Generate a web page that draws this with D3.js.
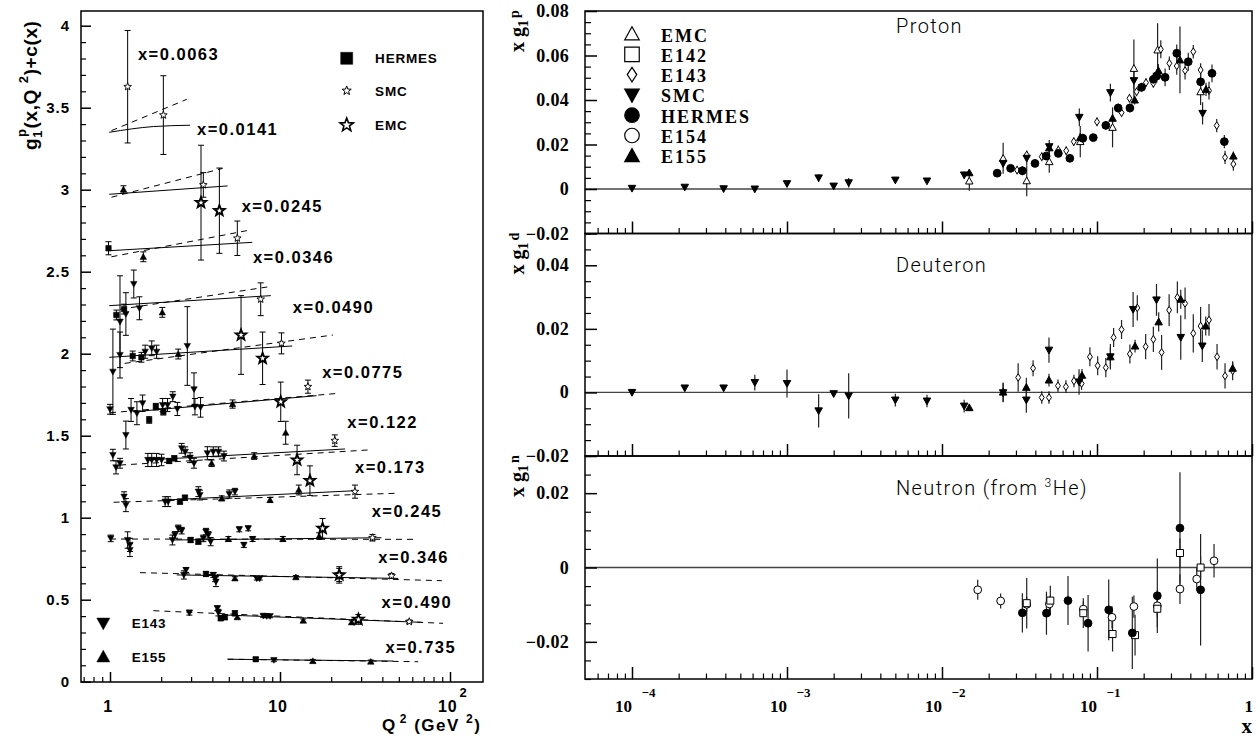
<!DOCTYPE html>
<html><head><meta charset="utf-8">
<script src="https://cdn.jsdelivr.net/npm/d3@7"></script>
<style>body{margin:0;background:#fff}svg{display:block}</style>
</head><body>
<svg id="c" width="1260" height="743"></svg>
<script>
// ================= DATA =================
// Left panel: g1p(x,Q2)+c(x) vs Q2  -> [Q2, value, error]
const leftBins = ["0.0063","0.0141","0.0245","0.0346","0.0490","0.0775","0.122","0.173","0.245","0.346","0.490","0.735"];
const leftHERMES = [[0.98,2.643,0.04],[1.09,2.236,0.03],[1.21,2.272,0.03],[1.36,1.986,0.03],[1.53,1.978,0.03],[1.70,1.596,0.02],[1.86,1.677,0.02],[2.06,1.646,0.02],[2.23,1.346,0.015],[2.39,1.362,0.015],[2.58,1.098,0.015],[2.76,1.122,0.015],[2.98,0.864,0.015],[3.31,0.854,0.015],[3.67,0.657,0.015],[4.48,0.387,0.015],[4.74,0.393,0.015],[5.43,0.417,0.015],[7.2,0.137,0.01]];
const leftE143 = [[1.145,2.195,0.28],[1.24,2.242,0.13],[1.38,2.425,0.085],[1.49,2.277,0.07],[1.04,1.89,0.26],[1.145,1.992,0.14],[1.61,2.012,0.04],[1.76,2.033,0.045],[1.88,2.012,0.04],[2.85,2.047,0.24],[3.12,1.783,0.1],
 [1.0,1.661,0.03],[1.24,1.504,0.085],[1.33,1.657,0.07],[1.44,1.637,0.07],[1.555,1.698,0.05],[2.04,1.687,0.04],[2.18,1.687,0.04],[2.34,1.738,0.03],[2.49,1.663,0.04],[3.16,1.677,0.05],[3.41,1.673,0.06],
 [1.04,1.382,0.035],[1.085,1.307,0.04],[1.145,1.332,0.03],[1.67,1.352,0.04],[1.76,1.352,0.04],[1.88,1.352,0.04],[2.01,1.352,0.035],[2.64,1.423,0.03],[2.77,1.402,0.03],[2.96,1.366,0.03],[3.12,1.332,0.03],[3.74,1.393,0.04],[4.05,1.402,0.03],[4.35,1.402,0.03],[4.68,1.376,0.03],
 [1.21,1.128,0.03],[1.24,1.077,0.04],[2.11,1.098,0.03],[2.2,1.098,0.03],[3.31,1.159,0.03],[3.38,1.138,0.03],[5.03,1.144,0.025],[5.43,1.159,0.02],
 [1.01,0.874,0.02],[1.27,0.864,0.05],[1.31,0.834,0.04],[1.31,0.803,0.04],[2.33,0.864,0.03],[2.41,0.895,0.02],[2.52,0.935,0.02],[2.64,0.921,0.02],[3.54,0.874,0.02],[3.67,0.915,0.02],[3.79,0.895,0.02],[3.91,0.854,0.025],[5.76,0.929,0.015],[6.13,0.834,0.015],[6.5,0.935,0.015],[6.9,0.87,0.015],
 [2.72,0.651,0.025],[2.80,0.681,0.015],[4.05,0.651,0.015],[4.15,0.630,0.02],[4.2,0.61,0.03],[7.3,0.63,0.01],[7.6,0.63,0.01],[22.3,0.651,0.04],
 [2.93,0.421,0.015],[4.28,0.448,0.015],[4.34,0.421,0.02],[7.97,0.402,0.01],[8.35,0.400,0.01],[8.74,0.400,0.01],
 [9.2,0.132,0.01]];
const leftE155 = [[1.20,3.002,0.022],[1.57,2.591,0.03],[2.03,2.252,0.03],[2.52,1.998,0.03],[5.26,1.693,0.025],[3.96,1.332,0.02],[7.05,1.376,0.02],[10.8,1.518,0.07],[4.54,1.118,0.015],[8.74,1.108,0.015],[12.9,1.169,0.03],[4.97,0.87,0.015],[10.4,0.87,0.015],[17.0,0.888,0.02],[5.43,0.630,0.01],[12.4,0.637,0.01],[5.61,0.393,0.01],[13.7,0.372,0.01],[26.4,0.362,0.01],[15.6,0.126,0.01],[34.2,0.122,0.01]];
const leftSMC = [[1.27,3.628,0.343],[2.06,3.455,0.24],[3.54,3.029,0.075],[5.61,2.704,0.105],[7.7,2.332,0.1],[10.2,2.063,0.064],[14.6,1.799,0.04],[21.0,1.47,0.035],[27.6,1.159,0.04],[35.0,0.878,0.02],[45.3,0.645,0.015],[57.6,0.366,0.01]];
const leftEMC = [[3.43,2.921,0.35],[4.4,2.872,0.26],[5.9,2.114,0.24],[7.9,1.972,0.16],[10.1,1.707,0.12],[12.6,1.352,0.09],[15.0,1.226,0.09],[17.8,0.935,0.06],[22.3,0.651,0.05],[28.9,0.38,0.03]];
// fitted curves per x bin: [Q2, value]
const leftSolid = [[[0.99,3.350],[1.8,3.385],[2.96,3.393]],[[0.99,2.972],[4.92,3.023]],[[0.99,2.628],[6.87,2.679]],[[0.99,2.293],[8.83,2.354]],[[0.99,1.978],[11.8,2.047]],[[1.37,1.646],[16.4,1.744]],[[1.64,1.352],[24.1,1.419]],[[2.11,1.108],[28.3,1.165]],[[2.36,0.864],[39.5,0.878]],[[2.47,0.651],[49.6,0.630]],[[4.63,0.407],[68.3,0.362]],[[4.92,0.137],[46.4,0.126]]];
const leftDashed = [[[1.02,3.36],[2.83,3.551]],[[1.02,2.954],[4.6,3.13]],[[1.02,2.591],[6.65,2.754]],[[1.145,2.271],[8.7,2.409]],[[1.22,1.941],[20.5,2.114]],[[1.0,1.64],[22.5,1.759]],[[1.145,1.321],[33,1.413]],[[1.05,1.094],[48.6,1.149]],[[1.0,0.87],[63.6,0.868]],[[1.5,0.665],[89.5,0.616]],[[1.8,0.433],[91,0.356]],[[4.92,0.137],[65,0.122]]];
const leftYTicks = ["0","0.5","1","1.5","2","2.5","3","3.5","4"];

// Right panels: x g1 vs x -> [x, value, error]
const protonSMC = [[1.0e-4,0.0003,0.0005],[2.19e-4,0.0008,0.0006],[3.9e-4,0.0001,0.0006],[6.2e-4,0.0,0.0008],[1.0e-3,0.0024,0.001],[1.6e-3,0.005,0.0016],[2.0e-3,0.0013,0.001],[2.5e-3,0.0028,0.0021],[5.0e-3,0.004,0.001],[8.0e-3,0.0036,0.001],[0.0139,0.0063,0.0015],[0.0248,0.0115,0.002],[0.0352,0.0138,0.003],[0.0492,0.019,0.003],[0.0769,0.0322,0.004],[0.122,0.0433,0.004],[0.173,0.0487,0.004],[0.48,0.034,0.005]];
const protonE155 = [[0.015,0.0073,0.001],[0.0492,0.0185,0.002],[0.078,0.0232,0.002],[0.126,0.0318,0.002],[0.175,0.040,0.002],[0.249,0.0532,0.003],[0.343,0.058,0.015],[0.505,0.0448,0.003],[0.758,0.0148,0.002]];
const protonEMC = [[0.015,0.0036,0.0044],[0.0248,0.0138,0.007],[0.0352,0.0037,0.007],[0.0492,0.0123,0.005],[0.078,0.0213,0.007],[0.126,0.0277,0.009],[0.173,0.0542,0.013],[0.246,0.0625,0.012],[0.466,0.0437,0.006]];
const protonE143 = [[0.0305,0.0085,0.002],[0.0352,0.0153,0.002],[0.044,0.0145,0.002],[0.0563,0.0175,0.002],[0.0633,0.0172,0.002],[0.0708,0.0213,0.002],[0.1,0.0302,0.002],[0.144,0.0343,0.002],[0.162,0.0408,0.002],[0.18,0.0437,0.002],[0.207,0.0478,0.002],[0.231,0.0475,0.002],[0.258,0.0628,0.004],[0.293,0.0565,0.003],[0.327,0.0553,0.004],[0.37,0.0532,0.004],[0.418,0.0617,0.003],[0.466,0.0535,0.003],[0.528,0.0442,0.004],[0.592,0.0285,0.003],[0.67,0.0142,0.003],[0.758,0.0112,0.003]];
const protonHERMES = [[0.0227,0.0071,0.001],[0.0277,0.0093,0.001],[0.033,0.0082,0.002],[0.0398,0.0115,0.001],[0.047,0.0148,0.001],[0.0563,0.016,0.001],[0.0668,0.0138,0.001],[0.081,0.0228,0.002],[0.0946,0.0231,0.001],[0.114,0.0286,0.002],[0.137,0.0364,0.002],[0.163,0.0364,0.002],[0.194,0.0457,0.002],[0.231,0.0493,0.003],[0.243,0.0508,0.003],[0.275,0.0502,0.004],[0.327,0.061,0.004],[0.388,0.0572,0.004],[0.466,0.0482,0.004],[0.552,0.052,0.004],[0.663,0.0213,0.003]];

const deutSMC = [[1.0e-4,0.0,0.0005],[2.19e-4,0.0014,0.0008],[3.9e-4,0.0014,0.001],[6.2e-4,0.0031,0.0025],[1.0e-3,0.0028,0.0044],[1.6e-3,-0.0058,0.0052],[2.0e-3,-0.0004,0.001],[2.5e-3,-0.0011,0.0071],[5.0e-3,-0.0024,0.002],[8.0e-3,-0.0027,0.002],[0.0139,-0.0043,0.002],[0.0248,-0.0001,0.003],[0.035,-0.0024,0.004],[0.049,0.0133,0.004],[0.0766,0.0033,0.004],[0.122,0.0112,0.004],[0.171,0.0261,0.0055],[0.242,0.0291,0.005],[0.347,0.0173,0.007],[0.478,0.0146,0.005]];
const deutE155 = [[0.015,-0.0048,0.001],[0.0248,0.0001,0.003],[0.035,0.0016,0.003],[0.049,0.0039,0.002],[0.08,0.0054,0.002],[0.122,0.0112,0.003],[0.176,0.0146,0.002],[0.25,0.0222,0.003],[0.347,0.0293,0.003],[0.503,0.0209,0.003],[0.75,0.0076,0.002]];
const deutE143 = [[0.031,0.0047,0.0045],[0.0387,0.0076,0.0025],[0.044,-0.0016,0.002],[0.049,-0.0016,0.002],[0.056,0.0021,0.002],[0.063,0.0018,0.002],[0.071,0.0036,0.002],[0.0795,0.0028,0.002],[0.09,0.0112,0.003],[0.101,0.0084,0.003],[0.114,0.0078,0.003],[0.128,0.0173,0.003],[0.144,0.0198,0.003],[0.163,0.0121,0.003],[0.182,0.0266,0.004],[0.206,0.0144,0.004],[0.231,0.0167,0.004],[0.261,0.0126,0.0055],[0.292,0.0259,0.005],[0.33,0.0299,0.005],[0.37,0.028,0.005],[0.418,0.0186,0.006],[0.466,0.0209,0.006],[0.528,0.0228,0.005],[0.595,0.0112,0.004],[0.67,0.0052,0.004],[0.75,0.0068,0.003]];

const neutHERMES = [[0.033,-0.0122,0.0053],[0.0472,-0.0123,0.0058],[0.065,-0.0089,0.0066],[0.0876,-0.015,0.0076],[0.119,-0.0114,0.0082],[0.169,-0.0176,0.0097],[0.245,-0.0076,0.01],[0.343,0.0106,0.015],[0.466,-0.006,0.015]];
const neutE142 = [[0.0352,-0.0096,0.0068],[0.05,-0.0089,0.004],[0.0816,-0.0123,0.004],[0.126,-0.0179,0.0047],[0.176,-0.0182,0.0055],[0.245,-0.0111,0.005],[0.343,0.0039,0.004],[0.466,0.0,0.003]];
const neutE154 = [[0.017,-0.006,0.0027],[0.0239,-0.009,0.002],[0.0352,-0.0099,0.002],[0.0493,-0.0098,0.002],[0.0816,-0.0112,0.002],[0.125,-0.0134,0.003],[0.173,-0.0105,0.003],[0.245,-0.0103,0.003],[0.343,-0.0058,0.004],[0.44,-0.0031,0.003],[0.569,0.0018,0.0045]];

const rightLegend = ["EMC","E142","E143","SMC","HERMES","E154","E155"];

// ================= LAYOUT / STYLE =================
const SANS = '"Liberation Sans", Arial, Helvetica, sans-serif';
const SERIF = '"Liberation Serif", "Times New Roman", Times, serif';
const THIN = 'Roboto, "DejaVu Sans", sans-serif';
const svg = d3.select('#c');
svg.append('rect').attr('width',1260).attr('height',743).attr('fill','#fff');

function shapePath(t, s){
  const h = s/2;
  switch(t){
    case 'square': return `M${-h},${-h}H${h}V${h}H${-h}Z`;
    case 'circle': return `M${h},0A${h},${h} 0 1,1 ${-h},0A${h},${h} 0 1,1 ${h},0Z`;
    case 'up': return `M0,${-h}L${h},${h*0.8}L${-h},${h*0.8}Z`;
    case 'down': return `M0,${h}L${h},${-h*0.8}L${-h},${-h*0.8}Z`;
    case 'diamond': return `M0,${-h*1.45}L${h*0.95},0L0,${h*1.45}L${-h*0.95},0Z`;
    case 'star': {
      let p = '';
      for(let i=0;i<10;i++){
        const r = i%2===0 ? h : h*0.42;
        const a = -Math.PI/2 + i*Math.PI/5;
        p += (i===0?'M':'L') + (r*Math.cos(a)).toFixed(2)+','+(r*Math.sin(a)).toFixed(2);
      }
      return p+'Z';
    }
  }
}
function marker(g, t, x, y, s, fill, sw){
  g.append('path').attr('d', shapePath(t,s)).attr('transform',`translate(${x},${y})`)
   .attr('fill', fill).attr('stroke','#000').attr('stroke-width', sw);
}

// ================= LEFT PANEL =================
const LF = {l:81, r:483, t:11, b:682};
const lx = d3.scaleLog().domain([1,100]).range([110,450]);
const ly = d3.scaleLinear().domain([0,4]).range([681.7,25.7]);
const gL = svg.append('g');

const lineL = d3.line().x(d=>lx(d[0])).y(d=>ly(d[1])).curve(d3.curveMonotoneX);
gL.selectAll('path.sol').data(leftSolid).join('path').attr('class','sol').attr('d',lineL)
  .attr('fill','none').attr('stroke','#000').attr('stroke-width',1);
gL.selectAll('path.das').data(leftDashed).join('path').attr('class','das').attr('d',lineL)
  .attr('fill','none').attr('stroke','#000').attr('stroke-width',1).attr('stroke-dasharray','6,5');

const allLeft = [...leftHERMES,...leftE143,...leftE155,...leftSMC,...leftEMC];
allLeft.forEach(d=>{
  const x = lx(d[0]), y1 = ly(d[1]-d[2]), y2 = ly(d[1]+d[2]);
  gL.append('line').attr('x1',x).attr('x2',x).attr('y1',y1).attr('y2',y2).attr('stroke','#000').attr('stroke-width',1);
  [y1,y2].forEach(yy=>gL.append('line').attr('x1',x-3).attr('x2',x+3).attr('y1',yy).attr('y2',yy).attr('stroke','#000').attr('stroke-width',1));
});
leftHERMES.forEach(d=>marker(gL,'square',lx(d[0]),ly(d[1]),5.5,'#000',0.5));
leftE143.forEach(d=>marker(gL,'down',lx(d[0]),ly(d[1]),6.5,'#000',0.5));
leftE155.forEach(d=>marker(gL,'up',lx(d[0]),ly(d[1]),6.5,'#000',0.5));
leftSMC.forEach(d=>marker(gL,'star',lx(d[0]),ly(d[1]),8,'#fff',0.9));
leftEMC.forEach(d=>marker(gL,'star',lx(d[0]),ly(d[1]),11,'#fff',1.9));

gL.append('rect').attr('x',LF.l).attr('y',LF.t).attr('width',LF.r-LF.l).attr('height',LF.b-LF.t)
  .attr('fill','none').attr('stroke','#000').attr('stroke-width',1.5);

const lyMinor = d3.range(0,41).map(i=>i/10).filter(v=>Math.abs(v*2-Math.round(v*2))>1e-6);
const lyMajor = leftYTicks.map(Number);
gL.append('g').attr('transform',`translate(${LF.l},0)`).call(d3.axisRight(ly).tickValues(lyMinor).tickSize(5).tickFormat(''))
  .call(g=>{g.select('.domain').remove(); g.selectAll('line').attr('stroke-width',1.2);});
gL.append('g').attr('transform',`translate(${LF.l},0)`).call(d3.axisRight(ly).tickValues(lyMajor).tickSize(10).tickFormat(''))
  .call(g=>{g.select('.domain').remove(); g.selectAll('line').attr('stroke-width',1.5);});
gL.selectAll('text.lyt').data(leftYTicks).join('text').attr('class','lyt')
  .attr('x',70).attr('y',d=>ly(+d)+5.5).attr('text-anchor','end')
  .attr('font-family',SANS).attr('font-weight','bold').attr('font-size',15).attr('letter-spacing',1).text(d=>d);

const lxMinor = [0.7,0.8,0.9,2,3,4,5,6,7,8,9,20,30,40,50,60,70,80,90];
const lxMajor = [1,10,100];
gL.append('g').attr('transform',`translate(0,${LF.b})`).call(d3.axisTop(lx).tickValues(lxMinor).tickSize(5).tickFormat(''))
  .call(g=>{g.select('.domain').remove(); g.selectAll('line').attr('stroke-width',1.2);});
gL.append('g').attr('transform',`translate(0,${LF.b})`).call(d3.axisTop(lx).tickValues(lxMajor).tickSize(10).tickFormat(''))
  .call(g=>{g.select('.domain').remove(); g.selectAll('line').attr('stroke-width',1.5);});
const xlabStyle = s=>s.attr('font-family',SANS).attr('font-weight','bold').attr('letter-spacing',0.8);
xlabStyle(gL.append('text').attr('x',lx(1)-2).attr('y',711.5).attr('text-anchor','middle').attr('font-size',16).text('1'));
xlabStyle(gL.append('text').attr('x',lx(10)-2).attr('y',711.5).attr('text-anchor','middle').attr('font-size',16).text('10'));
const l100 = gL.append('text').attr('x',lx(100)-12).attr('y',711.5).attr('font-size',16);
xlabStyle(l100);
l100.append('tspan').text('10');
l100.append('tspan').attr('dx',2).attr('dy',-15).attr('font-size',13).text('2');

const qt = gL.append('text').attr('x',382).attr('y',731).attr('font-family',SANS).attr('font-weight','bold').attr('font-size',17).attr('letter-spacing',1.5);
qt.append('tspan').text('Q');
qt.append('tspan').attr('dx',3).attr('dy',-8).attr('font-size',12).text('2');
qt.append('tspan').attr('dy',8).text(' (GeV ');
qt.append('tspan').attr('dy',-8).attr('font-size',12).text('2');
qt.append('tspan').attr('dy',8).text(')');

const yt = gL.append('text').attr('transform','translate(37,150) rotate(-90)').attr('font-family',SANS).attr('font-weight','bold').attr('font-size',19).attr('letter-spacing',0.6);
yt.append('tspan').text('g');
yt.append('tspan').attr('dy',5).attr('font-size',13).text('1');
yt.append('tspan').attr('dx',-7).attr('dy',-16).attr('font-size',13).text('p');
yt.append('tspan').attr('dy',11).text('(x,Q ');
yt.append('tspan').attr('dy',-9).attr('font-size',13).text('2');
yt.append('tspan').attr('dy',9).text(')+c(x)');

const leftLabelPos = [[1.46,3.79],[3.25,3.333],[5.95,2.864],[6.93,2.553],[11.9,2.25],[17.7,1.852],[24.9,1.547],[27.6,1.273],[34.6,1.006],[37.9,0.726],[39.6,0.448],[41.8,0.173]];
gL.selectAll('text.bin').data(leftBins).join('text').attr('class','bin')
  .attr('x',(d,i)=>lx(leftLabelPos[i][0])).attr('y',(d,i)=>ly(leftLabelPos[i][1]))
  .attr('font-family',SANS).attr('font-weight','bold').attr('font-size',16.5).attr('letter-spacing',1.5)
  .text(d=>'x='+d);

const legL = [{t:'HERMES',s:'square',sz:12,f:'#000',w:0.5,x:346.7,y:58.3,ty:63},
              {t:'SMC',s:'star',sz:9.5,f:'#fff',w:1,x:346.7,y:90.7,ty:96},
              {t:'EMC',s:'star',sz:14,f:'#fff',w:1.6,x:346.7,y:125,ty:130},
              {t:'E143',s:'down',sz:13,f:'#000',w:0.5,x:103.3,y:623.3,ty:628},
              {t:'E155',s:'up',sz:13,f:'#000',w:0.5,x:103.3,y:656.7,ty:661.7}];
legL.forEach(d=>{
  marker(gL,d.s,d.x,d.y,d.sz,d.f,d.w);
  gL.append('text').attr('x',d.x+28.4).attr('y',d.ty).attr('font-family',SANS).attr('font-weight','bold')
    .attr('font-size',13.5).attr('letter-spacing',0.8).text(d.t);
});

// ================= RIGHT PANELS =================
const rx = d3.scaleLog().domain([1e-4,1]).range([632,1252]);
const RL = 585, RR = 1252;
const rStyle = {
  EMC:{s:'up',f:'#fff',sz:7.5}, E142:{s:'square',f:'#fff',sz:7}, E143:{s:'diamond',f:'#fff',sz:5.2},
  SMC:{s:'down',f:'#000',sz:7.5}, HERMES:{s:'circle',f:'#000',sz:7.8}, E154:{s:'circle',f:'#fff',sz:7.8}, E155:{s:'up',f:'#000',sz:7.5}
};
const panels = [
  {top:11, bot:233.5, dom:[-0.02,0.08], labels:[-0.02,0,0.02,0.04,0.06,0.08], sup:'p', title:'Proton', ty:33,
   sets:[['EMC',protonEMC],['E143',protonE143],['HERMES',protonHERMES],['SMC',protonSMC],['E155',protonE155]]},
  {top:233.5, bot:456, dom:[-0.02,0.05], labels:[-0.02,0,0.02,0.04], sup:'d', title:'Deuteron', ty:271.5,
   sets:[['E143',deutE143],['SMC',deutSMC],['E155',deutE155]]},
  {top:456, bot:679, dom:[-0.03,0.03], labels:[-0.02,0,0.02], sup:'n', title:'Neutron', ty:495,
   sets:[['E154',neutE154],['E142',neutE142],['HERMES',neutHERMES]]}
];
const rxMinor = [];
[1e-5,1e-4,1e-3,1e-2,1e-1].forEach(dec=>{ for(let k=2;k<=9;k++){ const v=k*dec; if(v>5.5e-5 && v<1) rxMinor.push(v);} });
const rxMajor = [1e-4,1e-3,1e-2,1e-1,1];
const fmt = v => v===0 ? '0' : (v<0?'\u22120':'0') + Math.abs(v).toFixed(2).slice(1);

panels.forEach((P,pi)=>{
  const g = svg.append('g');
  const y = d3.scaleLinear().domain(P.dom).range([P.bot,P.top]);
  g.append('line').attr('x1',RL).attr('x2',RR).attr('y1',y(0)).attr('y2',y(0)).attr('stroke','#444').attr('stroke-width',1.3);
  P.sets.forEach(([k,arr])=>arr.forEach(d=>{
    g.append('line').attr('x1',rx(d[0])).attr('x2',rx(d[0])).attr('y1',y(d[1]-d[2])).attr('y2',y(d[1]+d[2]))
      .attr('stroke','#222').attr('stroke-width',1.2);
  }));
  P.sets.forEach(([k,arr])=>arr.forEach(d=>{
    const st = rStyle[k];
    marker(g,st.s,rx(d[0]),y(d[1]),st.sz,st.f,1);
  }));
  g.append('rect').attr('x',RL).attr('y',P.top).attr('width',RR-RL).attr('height',P.bot-P.top)
    .attr('fill','none').attr('stroke','#000').attr('stroke-width',1.5);
  const minor = d3.range(Math.round(P.dom[0]*200), Math.round(P.dom[1]*200)+1).map(i=>i/200).filter(v=>Math.abs(v*50-Math.round(v*50))>1e-6);
  g.append('g').attr('transform',`translate(${RL},0)`).call(d3.axisRight(y).tickValues(minor).tickSize(6).tickFormat(''))
    .call(s=>{s.select('.domain').remove(); s.selectAll('line').attr('stroke-width',1.2);});
  g.append('g').attr('transform',`translate(${RL},0)`).call(d3.axisRight(y).tickValues(P.labels).tickSize(12).tickFormat(''))
    .call(s=>{s.select('.domain').remove(); s.selectAll('line').attr('stroke-width',1.5);});
  g.selectAll('text.yl').data(P.labels).join('text').attr('class','yl')
    .attr('x',569).attr('y',d=>y(d)+6).attr('text-anchor','end')
    .attr('font-family',SERIF).attr('font-weight','bold').attr('font-size',18).attr('letter-spacing',0.3).text(d=>fmt(d));
  g.append('g').attr('transform',`translate(0,${P.bot})`).call(d3.axisTop(rx).tickValues(rxMinor).tickSize(5.5).tickFormat(''))
    .call(s=>{s.select('.domain').remove(); s.selectAll('line').attr('stroke-width',1.2);});
  g.append('g').attr('transform',`translate(0,${P.bot})`).call(d3.axisTop(rx).tickValues(rxMajor).tickSize(12).tickFormat(''))
    .call(s=>{s.select('.domain').remove(); s.selectAll('line').attr('stroke-width',1.5);});
  const t = g.append('text').attr('transform',`translate(524,${P.top+41}) rotate(-90)`)
    .attr('font-family',SERIF).attr('font-weight','bold').attr('font-size',20);
  t.append('tspan').text('x g');
  t.append('tspan').attr('dy',4).attr('font-size',14).text('1');
  t.append('tspan').attr('dx',2).attr('dy',-9).attr('font-size',14).text(P.sup);
  const tt = g.append('text').attr('x',896).attr('y',P.ty).attr('font-family',THIN).attr('font-weight',300)
    .attr('font-size',20).attr('letter-spacing',1.4).text(P.title);
  if(pi===2){
    tt.append('tspan').text(' (from ');
    tt.append('tspan').attr('dy',-8).attr('font-size',12).text('3');
    tt.append('tspan').attr('dy',8).text('He)');
  }
});

// right legend
rightLegend.forEach((k,i)=>{
  const st = rStyle[k], by = 41.5 + i*20.3;
  const sz = st.s==='diamond' ? 10 : 14.5;
  marker(svg,st.s,632,by-7.5,sz,st.f,1.2);
  svg.append('text').attr('x',661).attr('y',by).attr('font-family',SERIF).attr('font-weight','bold')
    .attr('font-size',18).attr('letter-spacing',2).text(k);
});

const rlab = svg.append('g').attr('font-family',SERIF).attr('font-weight','bold');
[-4,-3,-2,-1].forEach(e=>{
  const t = rlab.append('text').attr('x',rx(Math.pow(10,e))-17).attr('y',711.7).attr('font-size',17);
  t.append('tspan').text('10');
  t.append('tspan').attr('dx',9.5).attr('dy',-14.7).attr('font-size',13).text('\u2212'+(-e));
});
rlab.append('text').attr('x',rx(1)+1).attr('y',711.7).attr('text-anchor','end').attr('font-size',17).text('1');
rlab.append('text').attr('x',rx(1)).attr('y',733).attr('text-anchor','end').attr('font-size',21).text('x');
</script>
</body></html>
